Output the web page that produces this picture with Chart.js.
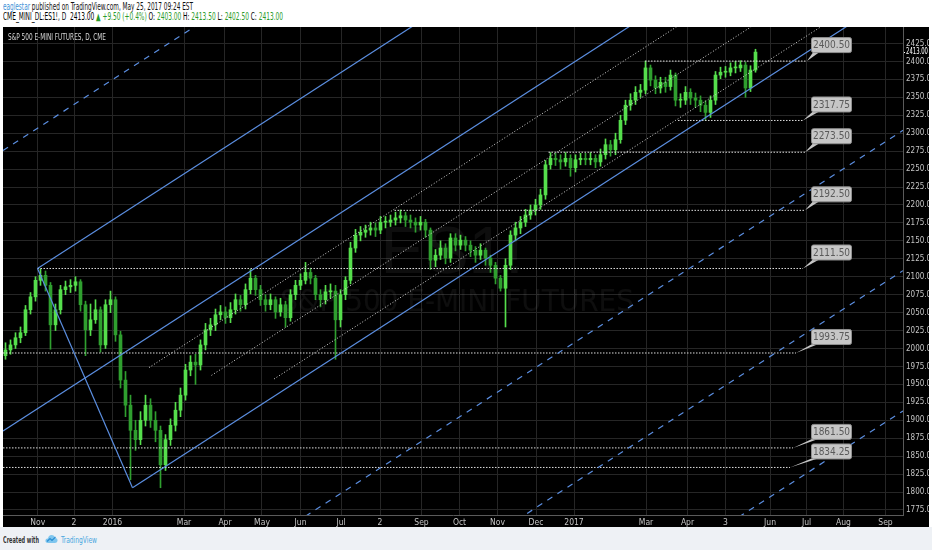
<!DOCTYPE html>
<html><head><meta charset="utf-8">
<script src="https://cdn.jsdelivr.net/npm/chart.js@4"></script>
<style>
html,body{margin:0;padding:0;width:932px;height:550px;overflow:hidden;background:#ffffff;font-family:'Liberation Sans Narrow','DejaVu Sans Condensed',sans-serif;}
.fit{position:absolute;white-space:pre;transform-origin:0 0;line-height:10px;}
#h1{left:3px;top:2px;font-size:10px;color:#111;}
#h2{left:3px;top:12px;font-size:10px;color:#000;}
.g{color:#2b9b2b;}
#panel{position:absolute;left:3px;top:27px;width:926px;height:500px;background:#000;}
#c{position:absolute;left:3px;top:27px;}
#ttl{left:8px;top:32px;font-size:9px;color:#d8d8d8;}
#foot{position:absolute;left:0;top:527px;width:932px;height:23px;background:#eef1f5;}
#f1{left:3px;top:535px;font-size:9px;font-weight:bold;color:#333;}
#logo{position:absolute;left:45px;top:533px;}
#f2{left:61px;top:535px;font-size:9px;color:#49a7e0;}
</style></head>
<body>
<div id="h1" class="fit" data-w="190"><span style="color:#3d8fd6">eaglestar</span> published on TradingView.com, May 25, 2017 09:24 EST</div>
<div id="h2" class="fit" data-w="280">CME_MINI_DL:ES1!, D  2413.00 <span class="g">▲ +9.50 (+0.4%)</span> O: <span class="g">2403.00</span> H: <span class="g">2413.50</span> L: <span class="g">2402.50</span> C: <span class="g">2413.00</span></div>
<div id="panel"></div>
<canvas id="c" width="926" height="500" style="width:926px;height:500px"></canvas>
<div id="ttl" class="fit" data-w="98">S&amp;P 500 E-MINI FUTURES, D, CME</div>
<div id="foot"></div>
<div id="f1" class="fit" data-w="36">Created with</div>
<svg id="logo" width="13" height="11" viewBox="0 0 13 11"><path d="M3 10 Q0 10 0.5 7 Q1 5 3 5.5 Q3.5 2 6.5 2 Q9.5 2 10 5 Q12.8 5.2 12.5 8 Q12 10 10 10 Z" fill="#7fc6ee"/><path d="M2 8.5 L5 5.5 L7 7.5 L10.5 4" stroke="#2b8fd4" stroke-width="1.2" fill="none"/></svg>
<div id="f2" class="fit" data-w="36">TradingView</div>
<script>
// ---- data (ES1! daily, sampled every ~3 sessions) ----
const firstOpen = 1990;
const closes = [1998,2005,2015,2022,2054,2072,2095,2102,2088,2033,
 2054,2082,2086,2088,2093,2061,2026,2040,2054,2005,
 2061,2068,2019,1956,1921,1886,1873,1900,1921,1900,
 1886,1838,1873,1893,1914,1935,1970,1981,1977,2005,
 2026,2033,2047,2051,2043,2054,2068,2061,2082,2098,
 2082,2068,2061,2068,2051,2061,2043,2075,2088,2095,
 2106,2098,2075,2068,2079,2080,2040,2075,2095,2140,
 2158,2162,2165,2168,2165,2176,2176,2179,2182,2185,
 2179,2176,2172,2176,2165,2123,2130,2140,2126,2154,
 2144,2151,2144,2137,2130,2137,2126,2116,2098,2084,
 2116,2158,2168,2176,2186,2193,2200,2214,2256,2265,
 2263,2260,2265,2252,2263,2265,2263,2265,2260,2270,
 2284,2277,2291,2318,2339,2346,2357,2360,2391,2374,
 2363,2371,2365,2381,2346,2346,2357,2349,2346,2339,
 2329,2346,2381,2385,2385,2391,2391,2395,2363,2388,
 2413];
const highs = [2008,2012,2022,2030,2060,2078,2100,2111,2108,2092,
 2062,2088,2094,2096,2100,2096,2066,2062,2068,2058,
 2068,2080,2072,2024,1968,1935,1900,1912,1935,1930,
 1912,1892,1880,1902,1925,1945,1978,1990,1992,2012,
 2035,2042,2055,2060,2058,2064,2076,2074,2090,2110,
 2102,2088,2075,2076,2072,2070,2066,2082,2095,2104,
 2120,2112,2102,2082,2088,2090,2088,2082,2100,2148,
 2166,2170,2172,2176,2175,2184,2184,2186,2190,2193,
 2190,2186,2182,2184,2180,2168,2138,2150,2146,2160,
 2160,2158,2156,2150,2142,2146,2140,2130,2120,2102,
 2125,2164,2176,2184,2194,2200,2208,2222,2262,2273,
 2272,2270,2273,2270,2270,2272,2272,2273,2270,2278,
 2292,2290,2300,2325,2346,2355,2365,2368,2400.5,2395,
 2380,2378,2378,2388,2384,2355,2365,2362,2356,2352,
 2345,2352,2386,2392,2393,2398,2400,2401,2399,2394,
 2417];
const lows = [1985,1992,2000,2008,2018,2048,2066,2088,2080,1999,
 2025,2048,2075,2078,2080,2052,1990,2018,2035,1995,
 2000,2050,2010,1945,1905,1817,1858,1866,1892,1890,
 1870,1806,1830,1865,1885,1905,1928,1962,1950,1970,
 1998,2018,2025,2040,2035,2036,2048,2052,2055,2076,
 2074,2060,2052,2054,2042,2045,2030,2038,2068,2082,
 2090,2090,2068,2058,2062,2070,1985,2030,2068,2090,
 2134,2150,2155,2158,2156,2160,2168,2170,2172,2175,
 2170,2168,2162,2165,2155,2110,2114,2124,2118,2120,
 2136,2138,2136,2128,2120,2124,2116,2106,2090,2080,
 2030,2110,2150,2160,2170,2180,2186,2194,2208,2250,
 2255,2250,2254,2240,2246,2256,2256,2256,2252,2254,
 2264,2268,2270,2286,2312,2332,2340,2350,2355,2366,
 2355,2356,2357,2360,2338,2336,2340,2340,2336,2330,
 2318,2322,2340,2376,2378,2380,2384,2386,2350,2358,
 2385];
const lastPrice = 2413;

// ---- axes ----
const xTickPos = [6.96,14.2,21.9,36.2,44.4,51.8,59.5,67.6,75.4,83.7,91.3,98.9,106.6,114.2,128.6,136.9,144.5,153.4,160.7,168.1,176.5];
const xTickLabels = ['Nov','2','2016','Mar','Apr','May','Jun','Jul','2','Sep','Oct','Nov','Dec','2017','Mar','Apr','3','Jun','Jul','Aug','Sep'];
const yTicks = [1775,1800,1825,1850,1875,1900,1925,1950,1975,2000,2025,2050,2075,2100,2125,2150,2175,2200,2225,2250,2275,2300,2325,2350,2375,2400,2425];

// ---- drawings (x in bar units, y in price) ----
const levelValues = [2400.5,2317.75,2273.5,2192.5,2111.5,1993.75,1861.5,1834.25];
const levelLabels = ['2400.50','2317.75','2273.50','2192.50','2111.50','1993.75','1861.50','1834.25'];
const levelStart = [128.4,135,109.1,78.3,6.9,0,0,0];
const levelEnd = [160.8,160,160.4,160.4,160,158.6,158,157.4];
const solidLines = [[0,1885,180,2695],[6.9,2111.5,180,2890.5],[25.9,1806,180,2499.5],[6.9,2111.5,25.9,1806]];
const dashedLines = [[0,2276,180,3086],[0,1494,180,2304],[0,1298.5,180,2108.5],[0,1103,180,1913]];
const dottedLines = [[29.2,1973.4,180,2652],[41.7,1962.6,180,2585],[54.2,1957.5,180,2522]];

const FONT = "'Liberation Sans Narrow','DejaVu Sans Condensed',sans-serif";
const UP = '#55de4c', DOWN = '#2f9f2f', BLUE = '#5b8ee0';

const opens = closes.map((c,k)=> k===0 ? firstOpen : closes[k-1]);
const barColor = ctx => { const k = ctx.dataIndex; return closes[k] >= opens[k] ? UP : DOWN; };

const datasets = [];
datasets.push({type:'bar', data: closes.map((c,k)=>({x:k+0.5, y:[lows[k],highs[k]]})), backgroundColor: barColor, barThickness:1, grouped:false, order:10});
datasets.push({type:'bar', data: closes.map((c,k)=>({x:k+0.5, y:[opens[k],c]})), backgroundColor: barColor, barThickness:3, minBarLength:1, grouped:false, order:9});
const seg = (l, color, dash, w) => ({type:'line', data:[{x:l[0],y:l[1]},{x:l[2],y:l[3]}], borderColor:color, borderWidth:w||1, borderDash:dash, pointRadius:0, fill:false, order:1, tension:0});
solidLines.forEach(l=>datasets.push(seg(l,BLUE,[],1.2)));
dashedLines.forEach(l=>datasets.push(seg(l,BLUE,[6,6],1.2)));
dottedLines.forEach(l=>datasets.push(seg(l,'#d8d8d8',[1,2])));
levelValues.forEach((v,k)=>datasets.push(seg([levelStart[k],v,levelEnd[k],v],'#dcdcdc',[1.5,1.5])));

const CALLOUT_X = 161.6;
const tvPlugin = {
  id:'tv',
  beforeDraw(chart){ const c=chart.ctx; c.save(); c.fillStyle='#000'; c.fillRect(0,0,chart.width,chart.height); c.restore(); },
  beforeDatasetsDraw(chart){
    const c=chart.ctx, a=chart.chartArea; c.save();
    c.fillStyle='rgba(255,255,255,0.055)'; c.textAlign='center'; c.textBaseline='middle';
    c.font = "66px 'Liberation Sans','DejaVu Sans',sans-serif";
    c.fillText('ES1!', a.left+449, a.top+228);
    c.font = "31px " + FONT;
    c.fillText('S&P 500 E-MINI FUTURES', a.left+454, a.top+276);
    c.restore();
  },
  afterDatasetsDraw(chart){
    const c=chart.ctx, xs=chart.scales.x, ys=chart.scales.y; c.save();
    const bx = xs.getPixelForValue(CALLOUT_X);
    levelValues.forEach((v,k)=>{
      const y = ys.getPixelForValue(v), xe = xs.getPixelForValue(levelEnd[k]);
      const top = y-24, w=40, h=15;
      c.fillStyle='#c6c6c6'; c.strokeStyle='#8f8f8f'; c.lineWidth=1;
      c.beginPath(); c.moveTo(bx+3,top+h-1); c.lineTo(bx+10,top+h-1); c.lineTo(xe,y); c.closePath(); c.fill();
      c.beginPath(); c.roundRect(bx+0.5,top+0.5,w,h,2); c.fill(); c.stroke();
      c.fillStyle='#5a5a5a'; c.font="10px "+FONT; c.textAlign='center'; c.textBaseline='middle';
      c.fillText(levelLabels[k], bx+0.5+w/2, top+h/2+1);
    });
    c.restore();
  },
  afterDraw(chart){
    const c=chart.ctx, ys=chart.scales.y, a=chart.chartArea; c.save();
    const y=ys.getPixelForValue(lastPrice);
    c.fillStyle='#ffffff'; c.font="8px "+FONT; c.textAlign='left'; c.textBaseline='middle';
    c.fillRect(a.right+1,Math.round(y),1,1);
    c.fillText(lastPrice.toFixed(2), a.right+3, y, chart.width - a.right - 4);
    c.restore();
  }
};

new Chart(document.getElementById('c'), {
  type:'bar',
  data:{datasets},
  options:{
    responsive:false, animation:false, events:[],
    layout:{padding:0},
    plugins:{legend:{display:false}, tooltip:{enabled:false}},
    scales:{
      x:{type:'linear', min:0, max:180, offset:false, position:'bottom',
        grid:{color:'#262626', drawTicks:false, offset:false},
        border:{color:'#5a5a5a'},
        ticks:{autoSkip:false, maxRotation:0, padding:3, color:'#c4c4c4', font:{size:8.5, family:FONT},
          callback:(v)=>{ const k=xTickPos.indexOf(v); return k>=0 ? xTickLabels[k] : ''; }},
        afterBuildTicks:s=>{ s.ticks = xTickPos.map(v=>({value:v})); },
        afterFit:s=>{ s.height=12; s.paddingLeft=0; s.paddingRight=0; }
      },
      y:{type:'linear', position:'right', min:1768, max:2448,
        grid:{color:'#262626', drawTicks:false},
        border:{color:'#5a5a5a'},
        ticks:{padding:3, color:'#c4c4c4', font:{size:8, family:FONT}, callback:v=>Number(v).toFixed(2)},
        afterBuildTicks:s=>{ s.ticks = yTicks.map(v=>({value:v})); },
        afterFit:s=>{ s.width=26; s.paddingTop=0; s.paddingBottom=0; }
      }
    }
  },
  plugins:[tvPlugin]
});

document.querySelectorAll('.fit').forEach(el=>{
  const w = el.getBoundingClientRect().width, t = +el.dataset.w;
  if (w>0) el.style.transform = 'scaleX('+(t/w)+')';
});
</script>
</body></html>
